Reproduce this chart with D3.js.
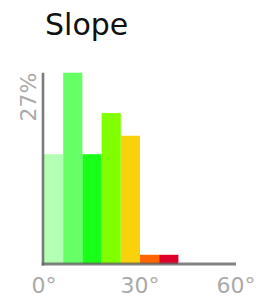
<!DOCTYPE html>
<html><head><meta charset="utf-8">
<script src="https://cdn.jsdelivr.net/npm/d3@7/dist/d3.min.js"></script>
<style>html,body{margin:0;padding:0;background:#fff;}svg{display:block;}</style>
</head><body>
<script>
const binStarts = [0, 6, 12, 18, 24, 30, 36];
const binWidth = 6;
const percents = [15.5, 27, 15.5, 21.3, 18.1, 1.3, 1.3];
const colors = ["#b3ffb3", "#66ff66", "#1aff1a", "#80ff00", "#f9d10c", "#ff6400", "#e0002c"];
const xTicks = [0, 30, 60];
const yMaxLabel = "27%";
const title = "Slope";

const W = 265, H = 303;
const svg = d3.select("body").append("svg").attr("width", W).attr("height", H);

const x = d3.scaleLinear().domain([0, 60]).range([44, 236]);
const y = d3.scaleLinear().domain([0, 27]).range([264, 72.7]);

svg.append("text").attr("x", 45).attr("y", 34.5)
  .attr("font-family", "DejaVu Sans").attr("font-size", 30).attr("fill", "#111")
  .text(title);

svg.selectAll("rect.bar").data(percents).enter().append("rect")
  .attr("class", "bar")
  .attr("x", (d, i) => x(binStarts[i]))
  .attr("width", (d, i) => x(binStarts[i] + binWidth) - x(binStarts[i]))
  .attr("y", d => y(d))
  .attr("height", d => y(0) - y(d))
  .attr("fill", (d, i) => colors[i]);

// axes
svg.append("line").attr("x1", x(0) - 1).attr("x2", x(0) - 1)
  .attr("y1", y(27)).attr("y2", y(0) + 1.5)
  .attr("stroke", "rgba(100,100,100,0.85)").attr("stroke-width", 2.6);
svg.append("line").attr("x1", x(0) - 2.3).attr("x2", x(60))
  .attr("y1", y(0)).attr("y2", y(0))
  .attr("stroke", "rgba(100,100,100,0.8)").attr("stroke-width", 3.2);

svg.selectAll("text.xt").data(xTicks).enter().append("text")
  .attr("class", "xt")
  .attr("x", d => x(d) + (d === 0 ? 0 : 0))
  .attr("y", 293)
  .attr("text-anchor", "middle")
  .attr("font-family", "DejaVu Sans").attr("font-size", 22).attr("fill", "#aaa")
  .text(d => d + "°");

svg.append("text")
  .attr("transform", `translate(36,${y(27)}) rotate(-90)`)
  .attr("text-anchor", "end")
  .attr("font-family", "DejaVu Sans").attr("font-size", 22).attr("fill", "#aaa")
  .text(yMaxLabel);
</script>
</body></html>
